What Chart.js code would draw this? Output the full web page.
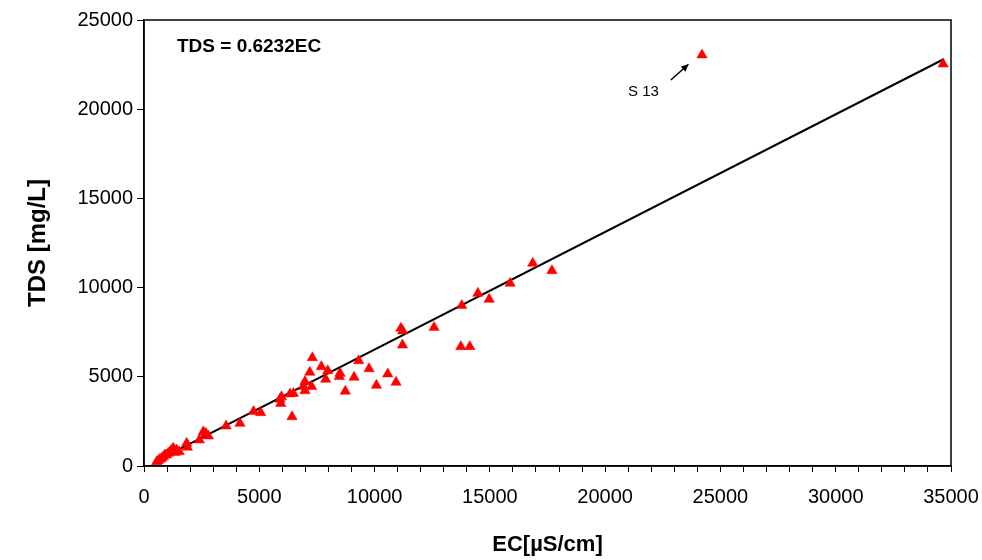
<!DOCTYPE html>
<html>
<head>
<meta charset="utf-8">
<script src="https://cdn.jsdelivr.net/npm/chart.js@4/dist/chart.umd.min.js"></script>
<style>
  html, body { margin: 0; padding: 0; background: #fff; }
  #wrap { width: 982px; height: 560px; }
</style>
</head>
<body>
<div id="wrap"><canvas id="tdsChart" width="982" height="560"></canvas></div>
<script>
// EC vs TDS samples
const ecValues = [
    24200, 34660, 16860, 17690, 15880, 14480, 14970, 13780, 12580, 11140,
    11220, 11210, 13740, 14130, 7300, 9310, 7690, 7970, 7190, 9760,
    8500, 8470, 10570, 7880, 9110, 10930, 10080, 8730, 6980, 7270,
    6910, 6980, 6480, 6330, 5960, 5900, 5930, 5060, 4750, 6420,
    4160, 3560, 2570, 2680, 2790, 2400, 1850, 1880, 1530, 1270,
    1200, 1420, 1340, 1130, 1050, 980, 910, 840, 770, 690,
    620, 550
];
const tdsValues = [
    23040, 22530, 11360, 10950, 10240, 9680, 9340, 8990, 7770, 7720,
    7570, 6780, 6690, 6690, 6070, 5900, 5570, 5340, 5250, 5450,
    5200, 5010, 5160, 4860, 4970, 4690, 4520, 4190, 4730, 4450,
    4450, 4220, 4070, 4040, 3880, 3740, 3510, 2990, 3050, 2760,
    2390, 2240, 1920, 1830, 1680, 1460, 1270, 1050, 800, 990,
    900, 900, 750, 800, 710, 620, 620, 520, 430, 380,
    300, 240
];

// fitted line as drawn in the reference
const fitEC = [600, 34680];
const fitTDS = [330, 22800];

const xTicks = [0, 5000, 10000, 15000, 20000, 25000, 30000, 35000];
const yTicks = [0, 5000, 10000, 15000, 20000, 25000];

const equationText = 'TDS = 0.6232EC';
const outlierLabel = 'S 13';

const fontFamily = '"Liberation Sans", Arial, sans-serif';

// extra drawing: frame, equation, outlier arrow
const decorPlugin = {
    id: 'decor',
    afterDatasetsDraw(chart) {
        const ctx = chart.ctx;
        const area = chart.chartArea;
        const xs = chart.scales.x;
        const ys = chart.scales.y;

        ctx.save();
        ctx.strokeStyle = '#000';
        ctx.lineWidth = 1.5;
        ctx.strokeRect(area.left, area.top, area.right - area.left, area.bottom - area.top);

        ctx.fillStyle = '#000';
        ctx.font = 'bold 19px ' + fontFamily;
        ctx.textAlign = 'left';
        ctx.textBaseline = 'middle';
        ctx.fillText(equationText, xs.getPixelForValue(1430), ys.getPixelForValue(23500));

        ctx.font = '15px ' + fontFamily;
        ctx.textAlign = 'center';
        ctx.fillText(outlierLabel, xs.getPixelForValue(21660), ys.getPixelForValue(20980));

        // arrow pointing at S 13
        const x1 = xs.getPixelForValue(22850), y1 = ys.getPixelForValue(21637);
        const x2 = xs.getPixelForValue(23615), y2 = ys.getPixelForValue(22517);
        ctx.lineWidth = 1.5;
        ctx.beginPath();
        ctx.moveTo(x1, y1);
        ctx.lineTo(x2, y2);
        ctx.stroke();
        const ang = Math.atan2(y2 - y1, x2 - x1);
        ctx.beginPath();
        ctx.moveTo(x2, y2);
        ctx.lineTo(x2 - 8 * Math.cos(ang - 0.45), y2 - 8 * Math.sin(ang - 0.45));
        ctx.lineTo(x2 - 8 * Math.cos(ang + 0.45), y2 - 8 * Math.sin(ang + 0.45));
        ctx.closePath();
        ctx.fill();
        ctx.restore();
    }
};

const points = ecValues.map((ec, i) => ({ x: ec, y: tdsValues[i] }));
const fitLine = fitEC.map((ec, i) => ({ x: ec, y: fitTDS[i] }));

const ctx = document.getElementById('tdsChart').getContext('2d');
const chart = new Chart(ctx, {
    type: 'scatter',
    data: {
        datasets: [{
            label: 'Fit',
            data: fitLine,
            showLine: true,
            borderColor: '#000',
            borderWidth: 2,
            pointRadius: 0,
            fill: false,
            order: 2
        }, {
            label: 'Samples',
            data: points,
            pointStyle: 'triangle',
            pointRadius: 6,
            backgroundColor: '#ff0000',
            borderColor: '#ff0000',
            borderWidth: 0.5,
            order: 1
        }]
    },
    options: {
        responsive: false,
        animation: false,
        layout: {
            padding: { top: 20, right: 31, left: 0, bottom: 0 }
        },
        plugins: {
            legend: { display: false },
            tooltip: { enabled: false }
        },
        scales: {
            x: {
                type: 'linear',
                min: 0,
                max: 35000,
                afterBuildTicks: function(scale) {
                    const t = [];
                    for (let v = 0; v <= 35000; v += 1000) t.push({ value: v });
                    scale.ticks = t;
                },
                afterFit: function(scale) {
                    scale.height = 94;
                    scale.paddingRight = 0;
                    scale.paddingLeft = 0;
                },
                grid: {
                    drawOnChartArea: false,
                    drawTicks: true,
                    tickLength: 6,
                    color: '#000',
                    lineWidth: 1
                },
                border: { display: true, color: '#000', width: 1.5 },
                ticks: {
                    autoSkip: false,
                    maxRotation: 0,
                    padding: 13,
                    color: '#000',
                    font: { family: fontFamily, size: 20 },
                    callback: function(v) { return xTicks.includes(v) ? String(v) : ''; }
                },
                title: {
                    display: true,
                    text: 'EC[µS/cm]',
                    color: '#000',
                    font: { family: fontFamily, size: 22, weight: 'bold' },
                    padding: { top: 0, bottom: 2 }
                }
            },
            y: {
                type: 'linear',
                min: 0,
                max: 25000,
                afterBuildTicks: function(scale) {
                    scale.ticks = yTicks.map(v => ({ value: v }));
                },
                afterFit: function(scale) { scale.width = 144; },
                grid: {
                    drawOnChartArea: false,
                    drawTicks: true,
                    tickLength: 7,
                    color: '#000',
                    lineWidth: 1
                },
                border: { display: true, color: '#000', width: 1.5 },
                ticks: {
                    padding: 4,
                    color: '#000',
                    font: { family: fontFamily, size: 20 },
                    callback: function(v) { return String(v); }
                },
                title: {
                    display: true,
                    text: 'TDS [mg/L]',
                    color: '#000',
                    font: { family: fontFamily, size: 24, weight: 'bold' },
                    padding: { top: 24, bottom: 0 }
                }
            }
        }
    },
    plugins: [decorPlugin]
});
</script>
</body>
</html>
